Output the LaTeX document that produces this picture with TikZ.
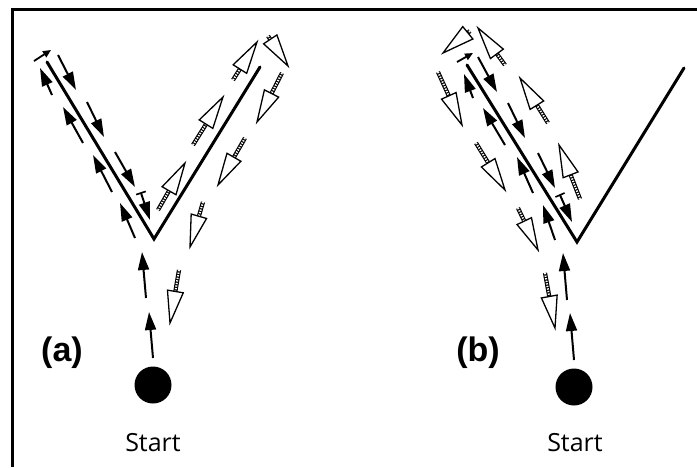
\documentclass[tikz,border=0pt]{standalone}
\usepackage{fontspec}
\newfontfamily\labfont{Liberation Sans}
\newfontfamily\startfont{Open Sans}
\usetikzlibrary{arrows.meta,calc}
\tikzset{
  wall/.style={line width=3pt,line join=miter,line cap=round},
  barrow/.style={line width=2pt,-{Triangle[length=18pt,width=11pt]}},
  sarrow/.style={line width=1.8pt,-{Triangle[length=8pt,width=7pt]}},
  hatchout/.style={line width=4.2pt},
  hatchin/.style={white,line width=2pt,dash pattern=on 1.3pt off 1.3pt},
  whead/.style={draw=black,fill=white,line width=1.3pt,line join=miter},
  startdot/.style={circle,fill=black,minimum size=37pt,inner sep=0pt},
  panellab/.style={font=\labfont\bfseries\fontsize{34}{34}\selectfont,inner sep=0pt},
  startlab/.style={font=\startfont\fontsize{25}{25}\selectfont,inner sep=0pt}
}
\newcommand\barr[2]{\draw[barrow] (#1) -- (#2);}
\newcommand\barrtick[2]{\draw[barrow] (#1) -- (#2);
  \draw[line width=1.6pt] ($(#1)!5pt!90:(#2)$) -- ($(#1)!5pt!-90:(#2)$);}
\newcommand\warr[2]{%
  \path ($(#2)!32pt!(#1)$) coordinate (wb);
  \draw[hatchout] (#1) -- (wb);
  \draw[hatchin] (#1) -- (wb);
  \draw[whead] (#2) -- ($(wb)!8pt!90:(#2)$) -- ($(wb)!8pt!-90:(#2)$) -- cycle;}
\begin{document}
\begin{tikzpicture}[x=1pt,y=-1pt]
\useasboundingbox (0,0) rectangle (697,467);
% frame
\draw[line width=3pt] (12,467) -- (12,9) -- (697,9);

% ---------- panel (a) ----------
\coordinate (aL) at (47,62);
\coordinate (aV) at (154,239);
\coordinate (aR) at (260,67);
\draw[wall] (aL) -- (aV) -- (aR);
\node[startdot] (astart) at (153,385) {};
\node[startlab] (astartlab) at (153,443) {Start};
\node[panellab] (alab) at (62,353) {(a)};

\barr{146,298}{142,252}
\barr{153,358}{149,312}
\barr{52,95}{40,68}
\barr{83,143}{63,107}
\barr{112,192}{93,155}
\barr{135,238}{120,203}
\barr{58,55}{76,90}
\barr{87,102}{104,137}
\barr{115,152}{135,187}
\barrtick{141,193}{150,220}
\draw[sarrow] (34,61) -- (51,50);

\warr{158,210}{185,163}
\warr{193,145}{223,97}
\warr{233,80}{257,42}
\warr{268,36}{288,66}
\warr{282,73}{257,122}
\warr{245,138}{218,185}
\warr{203,202}{190,247}
\warr{179,270}{170,323}

% ---------- panel (b) ----------
\coordinate (bL) at (467,65);
\coordinate (bV) at (577,242);
\coordinate (bR) at (684,68);
\draw[wall] (bL) -- (bV) -- (bR);
\node[startdot] (bstart) at (574,387) {};
\node[startlab] (bstartlab) at (575,443) {Start};
\node[panellab] (blab) at (478,353) {(b)};

\barr{567,300}{563,253}
\barr{574,360}{570,313}
\barr{473,98}{464,74}
\barr{505,145}{483,108}
\barr{533,193}{517,157}
\barr{555,240}{543,205}
\barr{478,57}{497,92}
\barr{508,103}{525,138}
\barr{538,153}{555,188}
\barrtick{560,195}{572,222}
\draw[sarrow] (457,62) -- (473,53);

\warr{438,72}{462,125}
\warr{476,143}{505,190}
\warr{518,208}{538,250}
\warr{545,273}{555,328}
\warr{505,65}{478,28}
\warr{548,123}{520,78}
\warr{580,199}{559,145}
\warr{470,31}{443,53}
\end{tikzpicture}
\end{document}
